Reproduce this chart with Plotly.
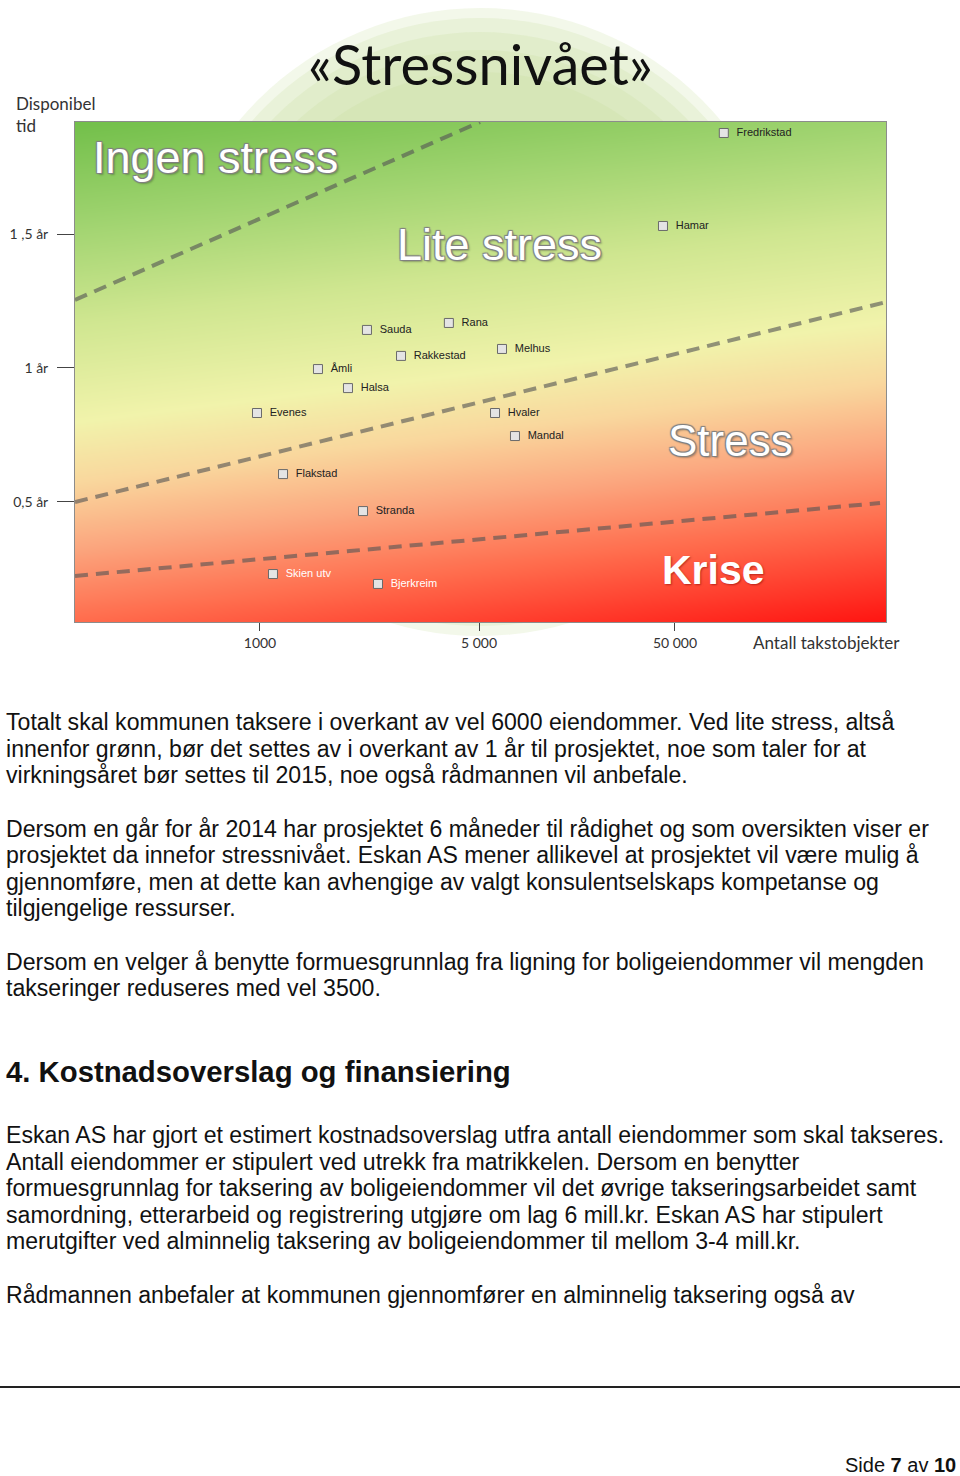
import numpy as np
import plotly.graph_objects as go

# ---------------- data ----------------
# x: position on the chart's schematic "Antall takstobjekter" scale (0-100, non-linear ticks)
# y: available time (years)
kommuner = ["Fredrikstad", "Hamar", "Sauda", "Rana", "Rakkestad", "Melhus", "Åmli", "Halsa",
            "Evenes", "Hvaler", "Mandal", "Flakstad", "Stranda", "Skien utv", "Bjerkreim"]
objekter_pos = [80.0, 72.5, 36.0, 46.1, 40.2, 52.65, 29.96, 33.66,
                22.44, 51.79, 54.25, 25.65, 35.51, 24.41, 37.36]
disponibel_tid = [1.877, 1.530, 1.142, 1.168, 1.045, 1.071, 0.996, 0.925,
                  0.832, 0.832, 0.746, 0.604, 0.466, 0.231, 0.194]

# zone boundary lines (start/end on same scales)
grense_ingen_lite_x = [0.0, 49.94]
grense_ingen_lite_y = [1.254, 1.918]
grense_lite_stress_x = [0.0, 100.0]
grense_lite_stress_y = [0.500, 1.246]
grense_stress_krise_x = [0.0, 99.26]
grense_stress_krise_y = [0.224, 0.496]

x_tick_vals = [22.81, 49.82, 73.98]
x_tick_text = ["1000", "5 000", "50 000"]
y_tick_vals = [1.5, 1.0, 0.5]
y_tick_text = ["1 ,5 år", "1 år", "0,5 år"]

soner = ["Ingen stress", "Lite stress", "Stress", "Krise"]

X_RANGE = [0, 100]
Y_RANGE = [0.052, 1.918]

W, H = 960, 1476


def xp(px):
    return px / W


def yp(py):
    return 1 - py / H


fig = go.Figure()

# --------- background gradient of the plot area (decorative) ----------
gx = np.linspace(-1, 101, 52)
gy = np.linspace(0.0, 1.97, 70)
GX, GY = np.meshgrid(gx, gy)
t_y = (Y_RANGE[1] - GY) / (Y_RANGE[1] - Y_RANGE[0])
zbg = t_y + 0.2 * (GX / 100.0)
fig.add_trace(go.Heatmap(
    x=gx, y=gy, z=zbg, zmin=0, zmax=1.2, zsmooth="best", showscale=False, hoverinfo="skip",
    colorscale=[[0.0, "#72bf4a"], [0.167, "#9fd36f"], [0.333, "#cfe690"], [0.5, "#f1f3ab"],
                [0.6, "#f9d79d"], [0.708, "#fba77f"], [0.833, "#ff6b4c"], [1.0, "#ff1411"]],
))

# --------- dashed zone boundaries ----------
for bx, by in [(grense_ingen_lite_x, grense_ingen_lite_y),
               (grense_lite_stress_x, grense_lite_stress_y),
               (grense_stress_krise_x, grense_stress_krise_y)]:
    fig.add_trace(go.Scatter(x=bx, y=by, mode="lines", hoverinfo="skip",
                             line=dict(color="rgba(85,85,85,0.62)", width=4, dash="13px,8px")))

# --------- municipalities ----------
label_colors = ["#222222"] * len(kommuner)
for i, k in enumerate(kommuner):
    if k in ("Skien utv", "Bjerkreim"):
        label_colors[i] = "#ffffff"
fig.add_trace(go.Scatter(
    x=objekter_pos, y=disponibel_tid, mode="markers+text",
    text=["\u00a0\u00a0" + k for k in kommuner], textposition="middle right",
    textfont=dict(family="Liberation Sans, Arial", size=11, color=label_colors),
    marker=dict(symbol="square", size=9, color="#e4e4e4", line=dict(color="#6a6a6a", width=1)),
    hovertext=kommuner, hoverinfo="text",
))

# --------- faint circle behind the title ----------
shapes = []
cx, cy = 480, 322
for r in [314, 304, 290, 272, 250]:
    shapes.append(dict(type="circle", xref="paper", yref="paper", layer="below",
                       x0=xp(cx - r), x1=xp(cx + r), y0=yp(cy + r), y1=yp(cy - r),
                       line=dict(width=0), fillcolor="rgba(195,222,150,0.2)"))
# footer rule
shapes.append(dict(type="line", xref="paper", yref="paper", x0=0, x1=1, y0=yp(1387), y1=yp(1387),
                   line=dict(color="#222222", width=2)))

ann = []
# title & axis captions
ann.append(dict(text="«Stressnivået»", x=xp(480), y=yp(63), xref="paper", yref="paper",
                showarrow=False, xanchor="center", yanchor="middle",
                font=dict(family="Lato", size=56, color="#111111")))
ann.append(dict(text="Disponibel<br>tid", x=xp(14), y=yp(114), xref="paper", yref="paper",
                showarrow=False, xanchor="left", yanchor="middle", align="left",
                font=dict(family="Lato", size=17, color="#333333")))
ann.append(dict(text="Antall takstobjekter", x=xp(751), y=yp(642), xref="paper", yref="paper",
                showarrow=False, xanchor="left", yanchor="middle",
                font=dict(family="Lato", size=17, color="#333333")))

# zone labels
outline = "-1px -1px 1px #808080, 1px -1px 1px #808080, -1px 1px 1px #808080, 1px 1px 1px #808080, 2px 2px 2px rgba(0,0,0,0.25)"
zone_pos = [(215, 157, 45, "normal"), (499, 244, 45, "normal"), (730, 440, 44, "normal"), (713, 570, 41, "bold")]
for name, (zx, zy, zs, zw) in zip(soner, zone_pos):
    ann.append(dict(text=name, x=xp(zx), y=yp(zy), xref="paper", yref="paper", showarrow=False,
                    xanchor="center", yanchor="middle",
                    font=dict(family="Liberation Sans, Arial", size=zs, color="#ffffff", weight=zw,
                              shadow=outline if name != "Krise" else "1px 1px 2px rgba(120,0,0,0.5)")))

# body text
body = [
    ("Totalt skal kommunen taksere i overkant av vel 6000 eiendommer. Ved lite stress, altså", 722),
    ("innenfor grønn, bør det settes av i overkant av 1 år til prosjektet, noe som taler for at", 749),
    ("virkningsåret bør settes til 2015, noe også rådmannen vil anbefale.", 775),
    ("Dersom en går for år 2014 har prosjektet 6 måneder til rådighet og som oversikten viser er", 829),
    ("prosjektet da innefor stressnivået. Eskan AS mener allikevel at prosjektet vil være mulig å", 855),
    ("gjennomføre, men at dette kan avhengige av valgt konsulentselskaps kompetanse og", 882),
    ("tilgjengelige ressurser.", 908),
    ("Dersom en velger å benytte formuesgrunnlag fra ligning for boligeiendommer vil mengden", 962),
    ("takseringer reduseres med vel 3500.", 988),
    ("Eskan AS har gjort et estimert kostnadsoverslag utfra antall eiendommer som skal takseres.", 1135),
    ("Antall eiendommer er stipulert ved utrekk fra matrikkelen. Dersom en benytter", 1162),
    ("formuesgrunnlag for taksering av boligeiendommer vil det øvrige takseringsarbeidet samt", 1188),
    ("samordning, etterarbeid og registrering utgjøre om lag 6 mill.kr. Eskan AS har stipulert", 1215),
    ("merutgifter ved alminnelig taksering av boligeiendommer til mellom 3-4 mill.kr.", 1241),
    ("Rådmannen anbefaler at kommunen gjennomfører en alminnelig taksering også av", 1295),
]
for line, y in body:
    ann.append(dict(text=line, x=xp(4), y=yp(y), xref="paper", yref="paper", showarrow=False,
                    xanchor="left", yanchor="middle",
                    font=dict(family="Liberation Sans, Arial", size=23.1, color="#111111")))
ann.append(dict(text="<b>4. Kostnadsoverslag og finansiering</b>", x=xp(4), y=yp(1071), xref="paper",
                yref="paper", showarrow=False, xanchor="left", yanchor="middle",
                font=dict(family="Liberation Sans, Arial", size=29.3, color="#111111")))
ann.append(dict(text="Side <b>7</b> av <b>10</b>", x=xp(958), y=yp(1465), xref="paper", yref="paper",
                showarrow=False, xanchor="right", yanchor="middle",
                font=dict(family="Liberation Sans, Arial", size=20, color="#111111")))

fig.update_layout(
    width=W, height=H, margin=dict(l=0, r=0, t=0, b=0),
    paper_bgcolor="white", plot_bgcolor="white", showlegend=False,
    shapes=shapes, annotations=ann,
    xaxis=dict(domain=[xp(75), xp(886)], range=X_RANGE, showgrid=False, zeroline=False,
               showline=True, mirror=True, linecolor="#8c8c8c", linewidth=1,
               ticks="outside", ticklen=8, tickwidth=1.3, tickcolor="#444444",
               tickvals=x_tick_vals, ticktext=x_tick_text,
               tickfont=dict(family="Lato", size=14, color="#333333")),
    yaxis=dict(domain=[yp(622), yp(122)], range=Y_RANGE, showgrid=False, zeroline=False,
               showline=True, mirror=True, linecolor="#8c8c8c", linewidth=1,
               ticks="outside", ticklen=17, tickwidth=1.3, tickcolor="#444444",
               tickvals=y_tick_vals, ticktext=y_tick_text, ticklabelstandoff=6,
               tickfont=dict(family="Lato", size=14, color="#333333")),
)

fig.write_html("out.html")
